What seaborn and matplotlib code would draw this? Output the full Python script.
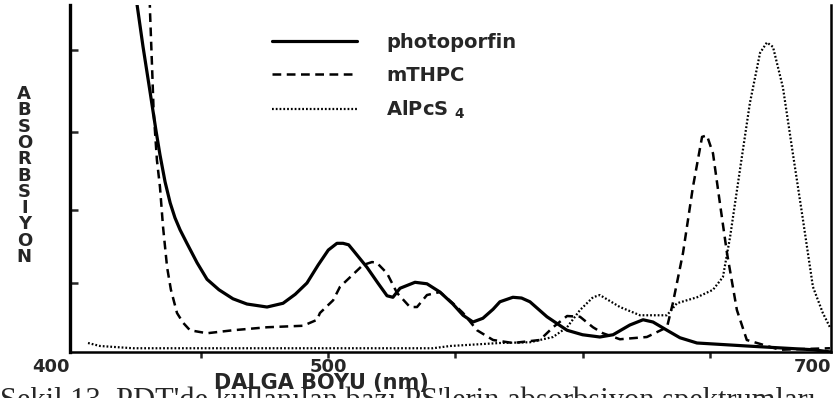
# plot.py
# Absorption spectra of three photosensitisers, redrawn with seaborn lineplot

import numpy as np
import pandas as pd
import matplotlib.pyplot as plt
import seaborn as sns

# values (x in nm, y in arbitrary absorbance units)
photoporfin_nm = [423.5, 424.8, 427.1, 429.9, 432.2, 433.8, 435.8, 437.8, 439.7, 441.7,
                  444.4, 448.4, 452.3, 457.0, 462.5, 468.0, 475.9, 482.2, 487.0, 491.6,
                  496.0, 500.0, 503.4, 505.8, 508.0, 509.7, 515.2, 519.5, 523.1, 525.4,
                  528.2, 534.1, 538.8, 543.9, 549.0, 553.0, 556.9, 560.8, 564.8, 567.5,
                  572.6, 576.0, 579.3, 586.0, 593.9, 600.0, 606.8, 612.0, 618.6, 623.8,
                  627.7, 633.2, 638.3, 645.0, 664.6, 690.6, 697.7]
photoporfin_abs = [4.90, 4.63, 4.08, 3.47, 2.96, 2.63, 2.27, 1.99, 1.79, 1.63,
                   1.45, 1.19, 0.97, 0.83, 0.71, 0.64, 0.60, 0.65, 0.77, 0.92,
                   1.16, 1.36, 1.45, 1.45, 1.43, 1.36, 1.13, 0.92, 0.75, 0.73,
                   0.85, 0.93, 0.91, 0.80, 0.64, 0.49, 0.40, 0.45, 0.57, 0.67,
                   0.73, 0.72, 0.67, 0.47, 0.29, 0.23, 0.20, 0.23, 0.36, 0.43,
                   0.40, 0.29, 0.19, 0.12, 0.08, 0.03, 0.00]

mthpc_nm = [429.6, 429.9, 430.7, 431.3, 432.6, 433.8, 435.0, 436.6, 438.1, 440.5,
            442.9, 445.6, 452.3, 462.5, 475.9, 490.1, 495.6, 496.7, 501.9, 504.6,
            513.6, 517.2, 519.1, 523.1, 527.0, 532.1, 534.9, 538.8, 543.9, 549.0,
            553.0, 558.5, 564.8, 572.6, 583.2, 588.4, 593.9, 599.0, 604.1, 608.0,
            614.7, 625.3, 633.2, 635.5, 639.5, 643.4, 647.0, 648.9, 651.3, 654.0,
            656.8, 660.7, 664.6, 677.6, 697.3]
mthpc_abs = [4.90, 4.52, 3.79, 3.21, 2.56, 2.20, 1.67, 1.13, 0.83, 0.52,
             0.39, 0.29, 0.25, 0.29, 0.33, 0.35, 0.43, 0.52, 0.69, 0.87,
             1.16, 1.20, 1.19, 1.05, 0.79, 0.60, 0.60, 0.76, 0.80, 0.65,
             0.52, 0.29, 0.16, 0.12, 0.16, 0.33, 0.48, 0.47, 0.33, 0.25,
             0.17, 0.20, 0.33, 0.65, 1.32, 2.20, 2.87, 2.89, 2.65, 1.99,
             1.32, 0.56, 0.16, 0.03, 0.05]

alpcs4_nm = [405.5, 410.2, 423.2, 488.9, 541.2, 547.9, 567.5, 579.3, 588.4, 593.9,
             599.0, 604.1, 606.8, 614.7, 622.6, 633.2, 637.1, 645.0, 651.3, 655.2,
             658.0, 661.9, 665.8, 669.8, 672.5, 674.9, 678.8, 682.7, 686.7, 690.6,
             694.5, 697.3]
alpcs4_abs = [0.12, 0.08, 0.05, 0.05, 0.05, 0.08, 0.12, 0.13, 0.20, 0.33,
              0.56, 0.73, 0.76, 0.60, 0.49, 0.49, 0.65, 0.73, 0.83, 1.00,
              1.53, 2.43, 3.32, 3.99, 4.13, 4.07, 3.53, 2.65, 1.76, 0.87,
              0.52, 0.33]

series_names = ["photoporfin", "mTHPC", "AlPcS $_{\\mathbf{4}}$"]
x_tick_labels = ["400", "500", "700"]
caption = "Şekil 13. PDT'de kullanılan bazı PS'lerin absorbsiyon spektrumları"

df_pp = pd.DataFrame({"nm": photoporfin_nm, "abs": photoporfin_abs})
df_mt = pd.DataFrame({"nm": mthpc_nm, "abs": mthpc_abs})
df_al = pd.DataFrame({"nm": alpcs4_nm, "abs": alpcs4_abs})

sns.set_style("ticks")
plt.rcParams["font.family"] = ["DejaVu Sans"]
plt.rcParams["mathtext.default"] = "bf"

fig = plt.figure(figsize=(8.37, 3.98), dpi=100)
ax = fig.add_axes([0.0836, 0.1156, 0.9092, 0.8719])

sns.lineplot(data=df_pp, x="nm", y="abs", ax=ax, color="black", linewidth=2.3,
             estimator=None, label=series_names[0])
sns.lineplot(data=df_mt, x="nm", y="abs", ax=ax, color="black", linewidth=1.8,
             linestyle=(0, (3.5, 2.2)), estimator=None, label=series_names[1])
sns.lineplot(data=df_al, x="nm", y="abs", ax=ax, color="black", linewidth=1.6,
             linestyle=(0, (0.8, 0.9)), estimator=None, label=series_names[2])

ax.set_xlim(398.4, 697.7)
ax.set_ylim(0, 4.63)

# spines: no top, thick left/bottom/right
ax.spines["top"].set_visible(False)
for side, w in [("left", 2.4), ("bottom", 1.8), ("right", 1.8)]:
    ax.spines[side].set_linewidth(w)
    ax.spines[side].set_color("black")

# x ticks: labels at the ends and 500, small marks every 50 nm
ax.set_xticks([398.4, 500, 697.7])
ax.set_xticklabels(x_tick_labels, fontsize=13, fontweight="bold")
ax.set_xticks([450, 550, 600, 650], minor=True)
ax.tick_params(axis="x", which="both", direction="out", length=4, width=1.8, pad=0)
xt = ax.xaxis.get_major_ticks()
xt[0].tick1line.set_visible(False)
xt[2].tick1line.set_visible(False)
xt[0].label1.set_horizontalalignment("right")
xt[2].label1.set_horizontalalignment("right")

# y ticks: inward marks only, no numbers
ax.set_yticks([0.92, 1.90, 2.93, 4.03])
ax.set_yticklabels([])
ax.tick_params(axis="y", direction="in", length=6, width=1.8)

ax.set_xlabel("DALGA BOYU (nm)", fontsize=15, fontweight="bold")
ax.xaxis.set_label_coords(0.331, -0.06)
ax.set_ylabel("")

fig.text(0.029, 0.559, "\n".join("ABSORBSIYON"), fontsize=13, fontweight="bold",
         ha="center", va="center", linespacing=0.88)

leg = ax.legend(loc="upper left", bbox_to_anchor=(0.265, 0.92), frameon=False,
                borderpad=0, borderaxespad=0, handlelength=4.4, handletextpad=1.5,
                labelspacing=0.72, prop={"size": 14, "weight": "bold"})

# caption of the scanned page, cut by the lower edge
fig.text(0.0, -0.027, caption, family="Liberation Serif", fontsize=22, va="baseline")

fig.savefig("out.png", dpi=100)
plt.close(fig)
